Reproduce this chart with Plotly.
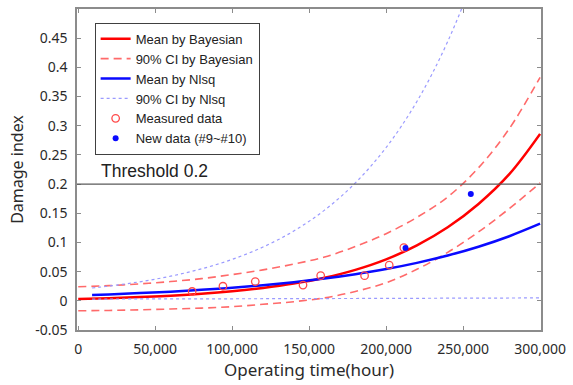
import plotly.graph_objects as go

# ---------------- data ----------------
t_bayes = [0, 20000, 40000, 60000, 80000, 100000, 120000, 140000, 160000,
           180000, 200000, 220000, 240000, 260000, 280000, 300000]
bayes_mean = [0.003, 0.0045, 0.0064, 0.0088, 0.012, 0.0163, 0.022, 0.0295,
              0.0395, 0.053, 0.071, 0.095, 0.126, 0.166, 0.217, 0.286]
bayes_upper = [0.024, 0.026, 0.029, 0.033, 0.038, 0.045, 0.053, 0.063,
               0.075, 0.093, 0.115, 0.143, 0.178, 0.228, 0.295, 0.383]
bayes_lower = [-0.017, -0.0165, -0.0155, -0.014, -0.0125, -0.010, -0.006, -0.0015,
               0.005, 0.016, 0.031, 0.054, 0.083, 0.118, 0.158, 0.202]

t_nlsq = [9000, 20000, 40000, 60000, 80000, 100000, 120000, 140000, 160000,
          180000, 200000, 220000, 240000, 260000, 280000, 300000]
nlsq_mean = [0.0100, 0.0110, 0.0132, 0.0157, 0.0188, 0.0224, 0.0268, 0.0320,
             0.0382, 0.0456, 0.0544, 0.0650, 0.0776, 0.0927, 0.1107, 0.1321]
nlsq_upper = [0.022, 0.0253, 0.0326, 0.0422, 0.0547, 0.071, 0.0921, 0.1196,
              0.1554, 0.202, 0.2627, 0.3416, 0.4443, 0.578, 0.752, 0.978]
nlsq_lower = [0.0030, 0.0031, 0.0032, 0.0033, 0.0034, 0.0035, 0.0036, 0.0038,
              0.0039, 0.0040, 0.0042, 0.0043, 0.0045, 0.0046, 0.0048, 0.0050]

measured_t = [74000, 94000, 115000, 146000, 157500, 186000, 202000, 211500]
measured_y = [0.016, 0.025, 0.033, 0.027, 0.043, 0.043, 0.061, 0.091]

new_t = [212600, 255000]
new_y = [0.0905, 0.183]

threshold = 0.2
threshold_label = "Threshold 0.2"

x_tickvals = [0, 50000, 100000, 150000, 200000, 250000, 300000]
x_ticktext = ["0", "50,000", "100,000", "150,000", "200,000", "250,000", "300,000"]
y_tickvals = [-0.05, 0, 0.05, 0.1, 0.15, 0.2, 0.25, 0.3, 0.35, 0.4, 0.45]
y_ticktext = ["-0.05", "0", "0.05", "0.1", "0.15", "0.2", "0.25", "0.3", "0.35", "0.4", "0.45"]

# ---------------- styles ----------------
RED = "#ff0000"
RED_CI = "#ff6a6a"
BLUE = "#0a0aff"
BLUE_CI = "#9a9aff"
AXIS = "#8c8c8c"
TICKFONT = dict(family="Noto Sans", size=14, color="#2a2a2a")

fig = go.Figure()

fig.add_trace(go.Scatter(x=t_bayes, y=bayes_mean, mode="lines", name="Mean by Bayesian",
                         line=dict(color=RED, width=2.5, shape="spline")))
fig.add_trace(go.Scatter(x=t_bayes, y=bayes_upper, mode="lines", name="90% CI by Bayesian",
                         legendgroup="bci",
                         line=dict(color=RED_CI, width=1.6, dash="8px,5px", shape="spline")))
fig.add_trace(go.Scatter(x=t_bayes, y=bayes_lower, mode="lines", name="90% CI by Bayesian",
                         legendgroup="bci", showlegend=False,
                         line=dict(color=RED_CI, width=1.6, dash="8px,5px", shape="spline")))
fig.add_trace(go.Scatter(x=t_nlsq, y=nlsq_mean, mode="lines", name="Mean by Nlsq",
                         line=dict(color=BLUE, width=2.5, shape="spline")))
fig.add_trace(go.Scatter(x=t_nlsq, y=nlsq_upper, mode="lines", name="90% CI by Nlsq",
                         legendgroup="nci",
                         line=dict(color=BLUE_CI, width=1.2, dash="dot", shape="spline")))
fig.add_trace(go.Scatter(x=t_nlsq, y=nlsq_lower, mode="lines", name="90% CI by Nlsq",
                         legendgroup="nci", showlegend=False,
                         line=dict(color=BLUE_CI, width=1.2, dash="dot", shape="spline")))
fig.add_trace(go.Scatter(x=measured_t, y=measured_y, mode="markers", name="Measured data",
                         marker=dict(symbol="circle-open", size=7.5, color="#ff4a4a",
                                     line=dict(width=1.3))))
fig.add_trace(go.Scatter(x=new_t, y=new_y, mode="markers", name="New data (#9~#10)",
                         marker=dict(symbol="circle", size=6, color=BLUE)))

fig.add_hline(y=threshold, line=dict(color="#5a5a5a", width=1.3))
fig.add_annotation(x=13500, y=threshold, yshift=13, text=threshold_label, showarrow=False,
                   xanchor="left", yanchor="middle",
                   font=dict(family="Liberation Sans", size=17.5, color="#222222"))

fig.update_layout(
    width=573, height=385,
    margin=dict(l=77, r=27, t=7, b=55),
    paper_bgcolor="white", plot_bgcolor="white",
    showlegend=True,
    legend=dict(x=0.038, y=0.957, xanchor="left", yanchor="top",
                bgcolor="white", bordercolor="#404040", borderwidth=1,
                font=dict(family="Liberation Sans", size=13, color="#222222"),
                tracegroupgap=0),
)
fig.update_xaxes(range=[-800, 300600], tickvals=x_tickvals, ticktext=x_ticktext,
                 showgrid=False, zeroline=False, showline=True, linecolor=AXIS, linewidth=1.5,
                 mirror="ticks", ticks="inside", ticklen=4, tickcolor=AXIS,
                 tickfont=TICKFONT, ticklabelstandoff=5,
                 title=dict(text="Operating time(hour)", standoff=6,
                            font=dict(family="Noto Sans", size=17, color="#2a2a2a")))
fig.update_yaxes(range=[-0.05, 0.5], tickvals=y_tickvals, ticktext=y_ticktext,
                 showgrid=False, zeroline=False, showline=True, linecolor=AXIS, linewidth=1.5,
                 mirror="ticks", ticks="inside", ticklen=4, tickcolor=AXIS,
                 tickfont=TICKFONT, ticklabelstandoff=5,
                 title=dict(text="Damage index", standoff=8,
                            font=dict(family="Noto Sans", size=16, color="#2a2a2a")))

fig.write_html("out.html")
